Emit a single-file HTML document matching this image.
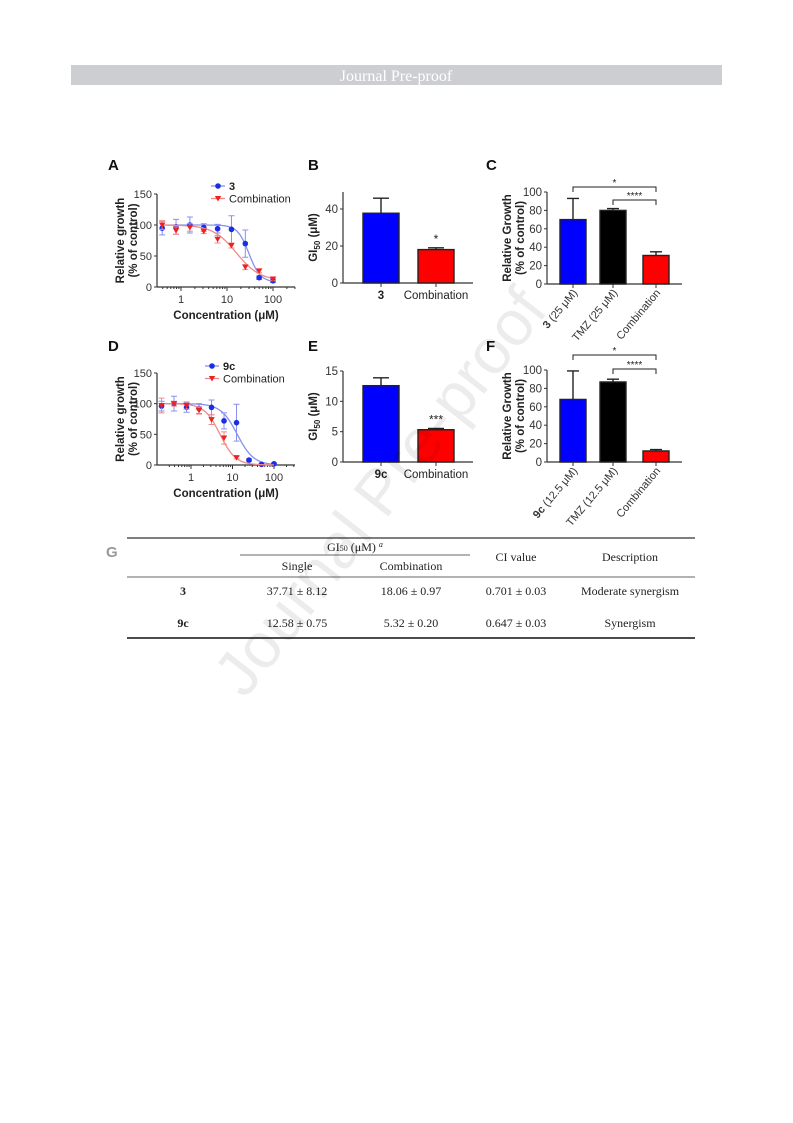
<!DOCTYPE html>
<html><head><meta charset="utf-8"><style>
html,body{margin:0;padding:0;background:#fff}
#pg{position:relative;width:793px;height:1123px;overflow:hidden}
svg{position:absolute;left:0;top:0}
</style></head><body>
<div id="pg">
<svg id="s" width="793" height="1123" viewBox="0 0 793 1123" font-family="Liberation Sans, Arial, sans-serif">
<rect x="71" y="65" width="651" height="20" fill="#cdced2"/>
<text x="396" y="81" text-anchor="middle" fill="#fff" font-family="Liberation Serif, serif" font-size="16">Journal Pre-proof</text>
<g id="charts"></g>
<g font-family="Liberation Serif, serif" font-size="12" fill="#222">
<text x="106" y="557" font-family="Liberation Sans, sans-serif" font-weight="bold" font-size="15" fill="#999">G</text>
<line x1="127" y1="538" x2="695" y2="538" stroke="#333" stroke-width="1.2"/>
<line x1="240" y1="555" x2="470" y2="555" stroke="#333" stroke-width="0.8"/>
<line x1="127" y1="577" x2="695" y2="577" stroke="#333" stroke-width="0.8"/>
<line x1="127" y1="638" x2="695" y2="638" stroke="#333" stroke-width="1.8"/>
<text x="355" y="551" text-anchor="middle">GI<tspan font-size="8">50</tspan> (μM) <tspan font-style="italic" font-size="8" dy="-4">a</tspan></text>
<text x="297" y="570" text-anchor="middle">Single</text>
<text x="411" y="570" text-anchor="middle">Combination</text>
<text x="516" y="561" text-anchor="middle">CI value</text>
<text x="630" y="561" text-anchor="middle">Description</text>
<text x="183" y="595" text-anchor="middle" font-weight="bold">3</text>
<text x="297" y="595" text-anchor="middle">37.71 ± 8.12</text>
<text x="411" y="595" text-anchor="middle">18.06 ± 0.97</text>
<text x="516" y="595" text-anchor="middle">0.701 ± 0.03</text>
<text x="630" y="595" text-anchor="middle">Moderate synergism</text>
<text x="183" y="627" text-anchor="middle" font-weight="bold">9c</text>
<text x="297" y="627" text-anchor="middle">12.58 ± 0.75</text>
<text x="411" y="627" text-anchor="middle">5.32 ± 0.20</text>
<text x="516" y="627" text-anchor="middle">0.647 ± 0.03</text>
<text x="630" y="627" text-anchor="middle">Synergism</text>
</g>
<text x="0" y="0" transform="translate(245,700) rotate(-52)" font-family="Liberation Sans, sans-serif" font-size="64" fill="#000" opacity="0.07">Journal Pre-proof</text>
</svg>
</div>
<script>
// ---- Data ----
const concA = [0.39,0.78,1.56,3.125,6.25,12.5,25,50,100];
const growthA3 = [95,97,100,96,94,93,70,15,10];
const errA3 = [11,12,13,6,7,22,22,3,3];
const growthAComb = [100,91,96,90,77,67,32,26,13];
const errAComb = [7,6,6,4,6,4,4,3,3];
const concD = [0.195,0.39,0.78,1.56,3.125,6.25,12.5,25,50,100];
const growthD9c = [96,100,94,92,94,72,69,8,1,2];
const errD9c = [8,12,8,8,12,13,30,2,1,1];
const growthDComb = [97,100,97,89,74,44,12];
const errDComb = [12,4,6,6,8,10,2];
const catB = ["3","Combination"];
const valB = [37.71,18.06];
const errB = [8.12,0.97];
const catE = ["9c","Combination"];
const valE = [12.58,5.32];
const errE = [1.3,0.2];
const catC = ["3 (25 μM)","TMZ (25 μM)","Combination"];
const valC = [70,80,31];
const errC = [23,2,4];
const catF = ["9c (12.5 μM)","TMZ (12.5 μM)","Combination"];
const valF = [68,87,12];
const errF = [31,3,1.5];
const fitA3 = {top:100,bottom:8,ec:30,h:3.5};
const fitACb = {top:100,bottom:10,ec:16,h:1.7};
const fitD9 = {top:100,bottom:0,ec:13,h:2.2};
const fitDCb = {top:100,bottom:0,ec:5,h:2.3};

const NS="http://www.w3.org/2000/svg";
const root=document.getElementById('charts');
function el(tag,attrs,parent){const e=document.createElementNS(NS,tag);for(const k in attrs)e.setAttribute(k,attrs[k]);(parent||root).appendChild(e);return e;}
function txt(x,y,s,attrs,parent){const t=el('text',Object.assign({x:x,y:y},attrs),parent);t.textContent=s;return t;}

function panelLabel(x,y,s){const t=txt(x,y,s,{'font-weight':'bold','font-size':'15',fill:'#111'});

}

function doseChart(cfg){
  const g=el('g',{});
  
  
  const X=c=>cfg.x1+(Math.log10(c))*cfg.dec;
  const Y=v=>cfg.y0-v*(cfg.y0-cfg.y150)/150;
  el('line',{x1:cfg.ax,y1:Y(150),x2:cfg.ax,y2:Y(0),stroke:'#333','stroke-width':1.2},g);
  el('line',{x1:cfg.ax,y1:Y(0),x2:cfg.xEnd,y2:Y(0),stroke:'#333','stroke-width':1.2},g);
  [0,50,100,150].forEach(v=>{el('line',{x1:cfg.ax-3,y1:Y(v),x2:cfg.ax,y2:Y(v),stroke:'#333'},g);
    txt(cfg.ax-5,Y(v)+4,String(v),{'text-anchor':'end','font-size':'11',fill:'#333'},g);});
  [1,10,100].forEach(v=>{el('line',{x1:X(v),y1:Y(0),x2:X(v),y2:Y(0)+4,stroke:'#333'},g);
    txt(X(v),Y(0)+16,String(v),{'text-anchor':'middle','font-size':'11',fill:'#333'},g);});
  [2,3,4,5,6,7,8,9,20,30,40,50,60,70,80,90,0.3,0.4,0.5,0.6,0.7,0.8,0.9,200,300].forEach(v=>{const xx=X(v);if(xx>cfg.ax&&xx<cfg.xEnd)el('line',{x1:xx,y1:Y(0),x2:xx,y2:Y(0)+2,stroke:'#333'},g);});
  txt((cfg.ax+cfg.xEnd)/2,Y(0)+32,'Concentration (μM)',{'text-anchor':'middle','font-size':'11.5','font-weight':'bold',fill:'#222'},g);
  const yt=txt(0,0,'Relative growth',{'text-anchor':'middle','font-size':'11.5','font-weight':'bold',fill:'#222',transform:`translate(${cfg.ax-33},${Y(75)}) rotate(-90)`},g);
  txt(0,0,'(% of control)',{'text-anchor':'middle','font-size':'11.5','font-weight':'bold',fill:'#222',transform:`translate(${cfg.ax-20},${Y(75)}) rotate(-90)`},g);
  cfg.series.forEach(s=>{
    let d='';for(let i=0;i<=120;i++){const lc=Math.log10(cfg.cmin)+i*(2.0-Math.log10(cfg.cmin))/120;const c=Math.pow(10,lc);
      const v=s.fit.bottom+(s.fit.top-s.fit.bottom)/(1+Math.pow(c/s.fit.ec,s.fit.h));d+=(i?'L':'M')+X(c).toFixed(1)+','+Y(v).toFixed(1);}
    const p=el('path',{d:d,fill:'none',stroke:s.light,'stroke-width':1.3},g);
    
    
    s.vals.forEach((v,i)=>{const cx=X(s.conc[i]),cy=Y(v),e=s.err[i];
      el('path',{d:`M${cx},${Y(v+e)}V${Y(v-e)}M${cx-3},${Y(v+e)}h6M${cx-3},${Y(v-e)}h6`,stroke:s.light,'stroke-width':1},g);
      let m;
      if(s.shape==='circle'){m=el('circle',{cx:cx,cy:cy,r:2.8,fill:s.color},g);}
      else{m=el('path',{d:`M${cx-3.2},${cy-2.5}h6.4L${cx},${cy+3}Z`,fill:s.color},g);}
      
      
    });
  });
  // legend
  cfg.series.forEach((s,i)=>{const ly=cfg.legY+i*12.5,lx=cfg.legX;
    el('line',{x1:lx,y1:ly,x2:lx+14,y2:ly,stroke:s.light,'stroke-width':1.3},g);
    if(s.shape==='circle')el('circle',{cx:lx+7,cy:ly,r:2.8,fill:s.color},g);
    else el('path',{d:`M${lx+3.8},${ly-2.5}h6.4L${lx+7},${ly+3}Z`,fill:s.color},g);
    const t=txt(lx+18,ly+4,s.label,{'font-size':'11',fill:'#222','font-weight':i===0?'bold':'normal'},g);
    
    
  });
}

function barChart(cfg){
  const g=el('g',{});
  
  
  const Y=v=>cfg.y0-v*cfg.k;
  el('line',{x1:cfg.ax,y1:cfg.yTop,x2:cfg.ax,y2:cfg.y0,stroke:'#333','stroke-width':1.2},g);
  el('line',{x1:cfg.ax,y1:cfg.y0,x2:cfg.xEnd,y2:cfg.y0,stroke:'#333','stroke-width':1.2},g);
  cfg.ticks.forEach(v=>{el('line',{x1:cfg.ax-3,y1:Y(v),x2:cfg.ax,y2:Y(v),stroke:'#333'},g);
    txt(cfg.ax-5,Y(v)+4,String(v),{'text-anchor':'end','font-size':'11.5',fill:'#333'},g);});
  cfg.vals.forEach((v,i)=>{const x=cfg.bx[i],w=cfg.bw;
    el('path',{d:`M${x+w/2},${Y(v)}V${Y(v+cfg.errs[i])}M${x+w/2-(cfg.capw||8)},${Y(v+cfg.errs[i])}h${2*(cfg.capw||8)}`,stroke:'#222','stroke-width':1.4},g);
    const r=el('rect',{x:x,y:Y(v),width:w,height:cfg.y0-Y(v),fill:cfg.colors[i],stroke:'#222','stroke-width':1.4},g);
    
    
    el('line',{x1:x+w/2,y1:cfg.y0,x2:x+w/2,y2:cfg.y0+4,stroke:'#333'},g);
    if(cfg.rot){
      const parts=cfg.cats[i].split(' ');const t=el('text',{x:0,y:0,'text-anchor':'end','font-size':'11',fill:'#333',transform:`translate(${x+w/2+5},${cfg.y0+9}) rotate(-50)`},g);
      if(i===0){const b=el('tspan',{'font-weight':'bold'},t);b.textContent=parts[0];const r2=el('tspan',{},t);r2.textContent=' '+parts.slice(1).join(' ');}
      else t.textContent=cfg.cats[i];
      
      
    } else {
      const t=txt(x+w/2,cfg.y0+16,cfg.cats[i],{'text-anchor':'middle','font-size':'11.5',fill:'#222','font-weight':i===0?'bold':'normal'},g);
      
      
    }
  });
  if(cfg.star){txt(cfg.bx[1]+cfg.bw/2,Y(cfg.vals[1]+cfg.errs[1])-5,cfg.star,{'text-anchor':'middle','font-size':'12',fill:'#222'},g);}
  if(cfg.brackets){cfg.brackets.forEach(b=>{const x1=cfg.bx[b.a]+cfg.bw/2,x2=cfg.bx[b.b]+cfg.bw/2;
    el('path',{d:`M${x1},${b.y+5}V${b.y}H${x2}V${b.y+5}`,fill:'none',stroke:'#222','stroke-width':1},g);
    txt((x1+x2)/2,b.y-1,b.s,{'text-anchor':'middle','font-size':'10',fill:'#222'},g);});}
  const ym=(cfg.yTop+cfg.y0)/2;
  if(cfg.ylab2){
    txt(0,0,cfg.ylab,{'text-anchor':'middle','font-size':'11.5','font-weight':'bold',fill:'#222',transform:`translate(${cfg.ax-36},${ym}) rotate(-90)`},g);
    txt(0,0,cfg.ylab2,{'text-anchor':'middle','font-size':'11.5','font-weight':'bold',fill:'#222',transform:`translate(${cfg.ax-23},${ym}) rotate(-90)`},g);
  } else {
    const t=el('text',{x:0,y:0,'text-anchor':'middle','font-size':'11.5','font-weight':'bold',fill:'#222',transform:`translate(${cfg.ax-26},${ym}) rotate(-90)`},g);
    t.innerHTML='GI<tspan font-size="8" dy="3">50</tspan><tspan dy="-3"> (μM)</tspan>';
  }
}

panelLabel(108,170,'A');panelLabel(308,170,'B');panelLabel(486,170,'C');
panelLabel(108,351,'D');panelLabel(308,351,'E');panelLabel(486,351,'F');

doseChart({name:'chart-a',ax:157,xEnd:295,x1:181,dec:46,y0:287,y150:194,cmin:0.39,legX:211,legY:186,
 series:[{key:'compound-3',label:'3',conc:concA,vals:growthA3,err:errA3,color:'#1a2eea',light:'#8890ee',shape:'circle',fit:fitA3},
         {key:'combination-a',label:'Combination',conc:concA,vals:growthAComb,err:errAComb,color:'#ee2020',light:'#f08a8a',shape:'tri',fit:fitACb}]});
doseChart({name:'chart-d',ax:157,xEnd:295,x1:191,dec:41.5,y0:465,y150:373,cmin:0.195,legX:205,legY:366,
 series:[{key:'compound-9c',label:'9c',conc:concD,vals:growthD9c,err:errD9c,color:'#1a2eea',light:'#8890ee',shape:'circle',fit:fitD9},
         {key:'combination-d',label:'Combination',conc:concD.slice(0,growthDComb.length),vals:growthDComb,err:errDComb,color:'#ee2020',light:'#f08a8a',shape:'tri',fit:fitDCb}]});
barChart({name:'chart-b',ax:343,xEnd:473,y0:283,k:37/20,yTop:192,ticks:[0,20,40],cats:catB,vals:valB,errs:errB,bx:[363,418],bw:36,colors:['#0000ff','#ff0000'],star:'*'});
barChart({name:'chart-e',ax:343,xEnd:473,y0:462,k:91/15,yTop:371,ticks:[0,5,10,15],cats:catE,vals:valE,errs:errE,bx:[363,418],bw:36,colors:['#0000ff','#ff0000'],star:'***'});
barChart({name:'chart-c',ax:547,xEnd:682,y0:284,k:0.92,yTop:192,ticks:[0,20,40,60,80,100],cats:catC,vals:valC,errs:errC,bx:[560,600,643],bw:26,capw:6,colors:['#0000ff','#000000','#ff0000'],rot:true,
 ylab:'Relative Growth',ylab2:'(% of control)',brackets:[{a:0,b:2,y:187,s:'*'},{a:1,b:2,y:200,s:'****'}]});
barChart({name:'chart-f',ax:547,xEnd:682,y0:462,k:0.92,yTop:370,ticks:[0,20,40,60,80,100],cats:catF,vals:valF,errs:errF,bx:[560,600,643],bw:26,capw:6,colors:['#0000ff','#000000','#ff0000'],rot:true,
 ylab:'Relative Growth',ylab2:'(% of control)',brackets:[{a:0,b:2,y:355,s:'*'},{a:1,b:2,y:369,s:'****'}]});
</script>
</body></html>
